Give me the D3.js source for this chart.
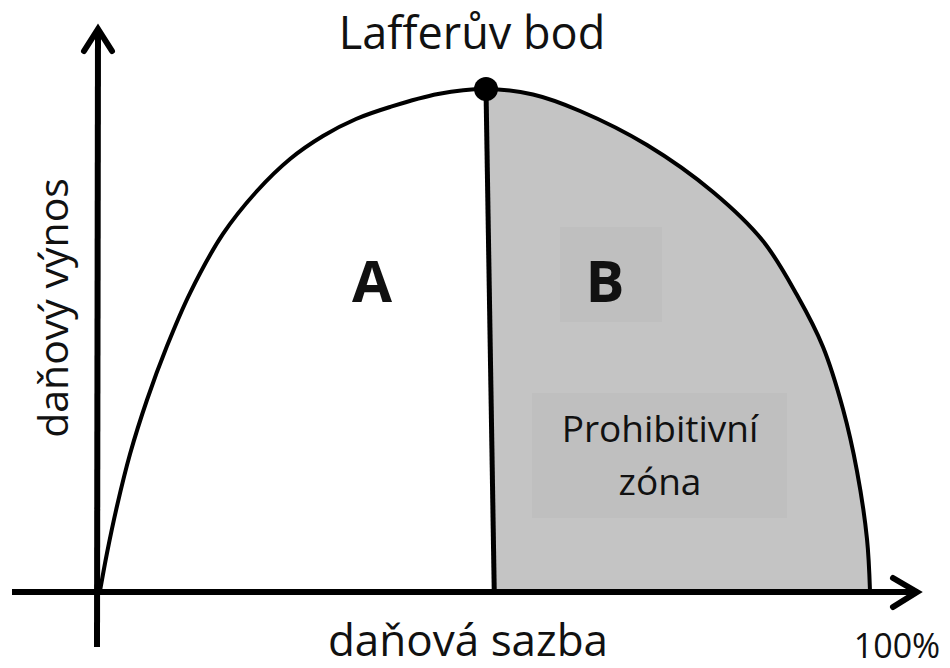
<!DOCTYPE html>
<html>
<head>
<meta charset="utf-8">
<script src="https://cdn.jsdelivr.net/npm/d3@7"></script>
<style>
  body { margin: 0; background: #fff; }
  text { font-family: "Open Sans", sans-serif; fill: #111; }
</style>
</head>
<body>
<div id="chart"></div>
<script>
// Laffer curve (tax rate in %, revenue as % of max)
let taxRate = [0, 0.91, 2.21, 3.90, 6.10, 8.70, 11.69, 15.97, 20.39, 24.68, 28.96, 33.25, 37.66, 43.90, 50.13,
  56.23, 62.34, 71.04, 79.61, 86.10, 90.52, 93.90, 96.49, 98.31, 99.61, 100]
let revenue = [0, 7.57, 16.93, 27.29, 38.05, 48.80, 59.36, 71.12, 79.68, 86.06, 90.64, 94.02, 96.41, 99.00, 100,
  98.90, 95.62, 88.84, 79.48, 69.72, 58.96, 48.61, 36.25, 23.90, 10.36, 0]
let lafferPoint = [50.13, 100]
let dividerFoot = [51.2, 0]

let titleText = "Lafferův bod"
let xLabel = "daňová sazba"
let yLabel = "daňový výnos"
let endLabel = "100%"
let zoneLabels = ["A", "B"]
let prohibitiveLines = ["Prohibitivní", "zóna"]

let width = 950, height = 668

let svg = d3.select("#chart").append("svg")
  .attr("width", width)
  .attr("height", height)

let x = d3.scaleLinear().domain([0, 100]).range([100, 870])
let y = d3.scaleLinear().domain([0, 100]).range([591, 89])

let pts = taxRate.map((t, i) => [t, revenue[i]])
let peakIdx = revenue.indexOf(d3.max(revenue))
let rightPts = pts.slice(peakIdx - 1)

let line = d3.line()
  .x(d => x(d[0]))
  .y(d => y(d[1]))
  .curve(d3.curveCatmullRom.alpha(0.5))

// shaded prohibitive zone: area under the curve, clipped right of the divider
let slope = (x(dividerFoot[0]) - x(lafferPoint[0])) / (y(dividerFoot[1]) - y(lafferPoint[1]))
let topX = x(lafferPoint[0]) - slope * y(lafferPoint[1])
svg.append("clipPath")
  .attr("id", "rightClip")
  .append("path")
  .attr("d", "M" + topX + ",0L" + width + ",0L" + width + "," + y(0) +
    "L" + x(dividerFoot[0]) + "," + y(dividerFoot[1]) + "Z")

svg.append("path")
  .attr("d", line(pts) + "Z")
  .attr("fill", "#c4c4c4")
  .attr("clip-path", "url(#rightClip)")

// slightly darker label boxes inside the zone
svg.append("rect")
  .attr("x", 560).attr("y", 227).attr("width", 102).attr("height", 95)
  .attr("fill", "#bfbfbf")
svg.append("rect")
  .attr("x", 532).attr("y", 393).attr("width", 255).attr("height", 125)
  .attr("fill", "#bfbfbf")

// axes
let y0 = y(0) + 1
svg.append("line")
  .attr("x1", 12).attr("y1", y0).attr("x2", 916).attr("y2", y0)
  .attr("stroke", "#000").attr("stroke-width", 6)
svg.append("line")
  .attr("x1", 97).attr("y1", 647).attr("x2", 98).attr("y2", 30)
  .attr("stroke", "#000").attr("stroke-width", 6)

// arrow heads
svg.append("path")
  .attr("d", "M893," + (y0 - 14) + "L917," + y0 + "L893," + (y0 + 15))
  .attr("fill", "none").attr("stroke", "#000").attr("stroke-width", 6)
  .attr("stroke-linecap", "round").attr("stroke-linejoin", "miter")
svg.append("path")
  .attr("d", "M84,51L98,29L112,51")
  .attr("fill", "none").attr("stroke", "#000").attr("stroke-width", 6)
  .attr("stroke-linecap", "round").attr("stroke-linejoin", "miter")

// the curve
svg.append("path")
  .attr("d", line(pts))
  .attr("fill", "none")
  .attr("stroke", "#000")
  .attr("stroke-width", 4)

// divider from the Laffer point down to the axis
svg.append("line")
  .attr("x1", x(lafferPoint[0])).attr("y1", y(lafferPoint[1]))
  .attr("x2", x(dividerFoot[0])).attr("y2", y(dividerFoot[1]))
  .attr("stroke", "#000").attr("stroke-width", 5)

svg.append("circle")
  .attr("cx", x(lafferPoint[0])).attr("cy", y(lafferPoint[1]))
  .attr("r", 12).attr("fill", "#000")

// texts
svg.append("text")
  .attr("x", 472).attr("y", 49)
  .attr("text-anchor", "middle")
  .attr("font-size", 45)
  .text(titleText)

svg.append("text")
  .attr("x", 468).attr("y", 656)
  .attr("text-anchor", "middle")
  .attr("font-size", 44)
  .text(xLabel)

svg.append("text")
  .attr("transform", "translate(68,308) rotate(-90)")
  .attr("text-anchor", "middle")
  .attr("font-size", 41)
  .text(yLabel)

svg.append("text")
  .attr("x", 897).attr("y", 658)
  .attr("text-anchor", "middle")
  .attr("font-size", 34)
  .text(endLabel)

svg.selectAll(".zone")
  .data(zoneLabels)
  .enter()
  .append("text")
  .attr("class", "zone")
  .attr("x", (d, i) => [372, 605][i])
  .attr("y", 302)
  .attr("text-anchor", "middle")
  .attr("font-size", 58)
  .attr("font-weight", "bold")
  .text(d => d)

svg.selectAll(".prohib")
  .data(prohibitiveLines)
  .enter()
  .append("text")
  .attr("class", "prohib")
  .attr("x", 660)
  .attr("y", (d, i) => 442 + i * 53)
  .attr("text-anchor", "middle")
  .attr("font-size", 37)
  .text(d => d)
</script>
</body>
</html>
